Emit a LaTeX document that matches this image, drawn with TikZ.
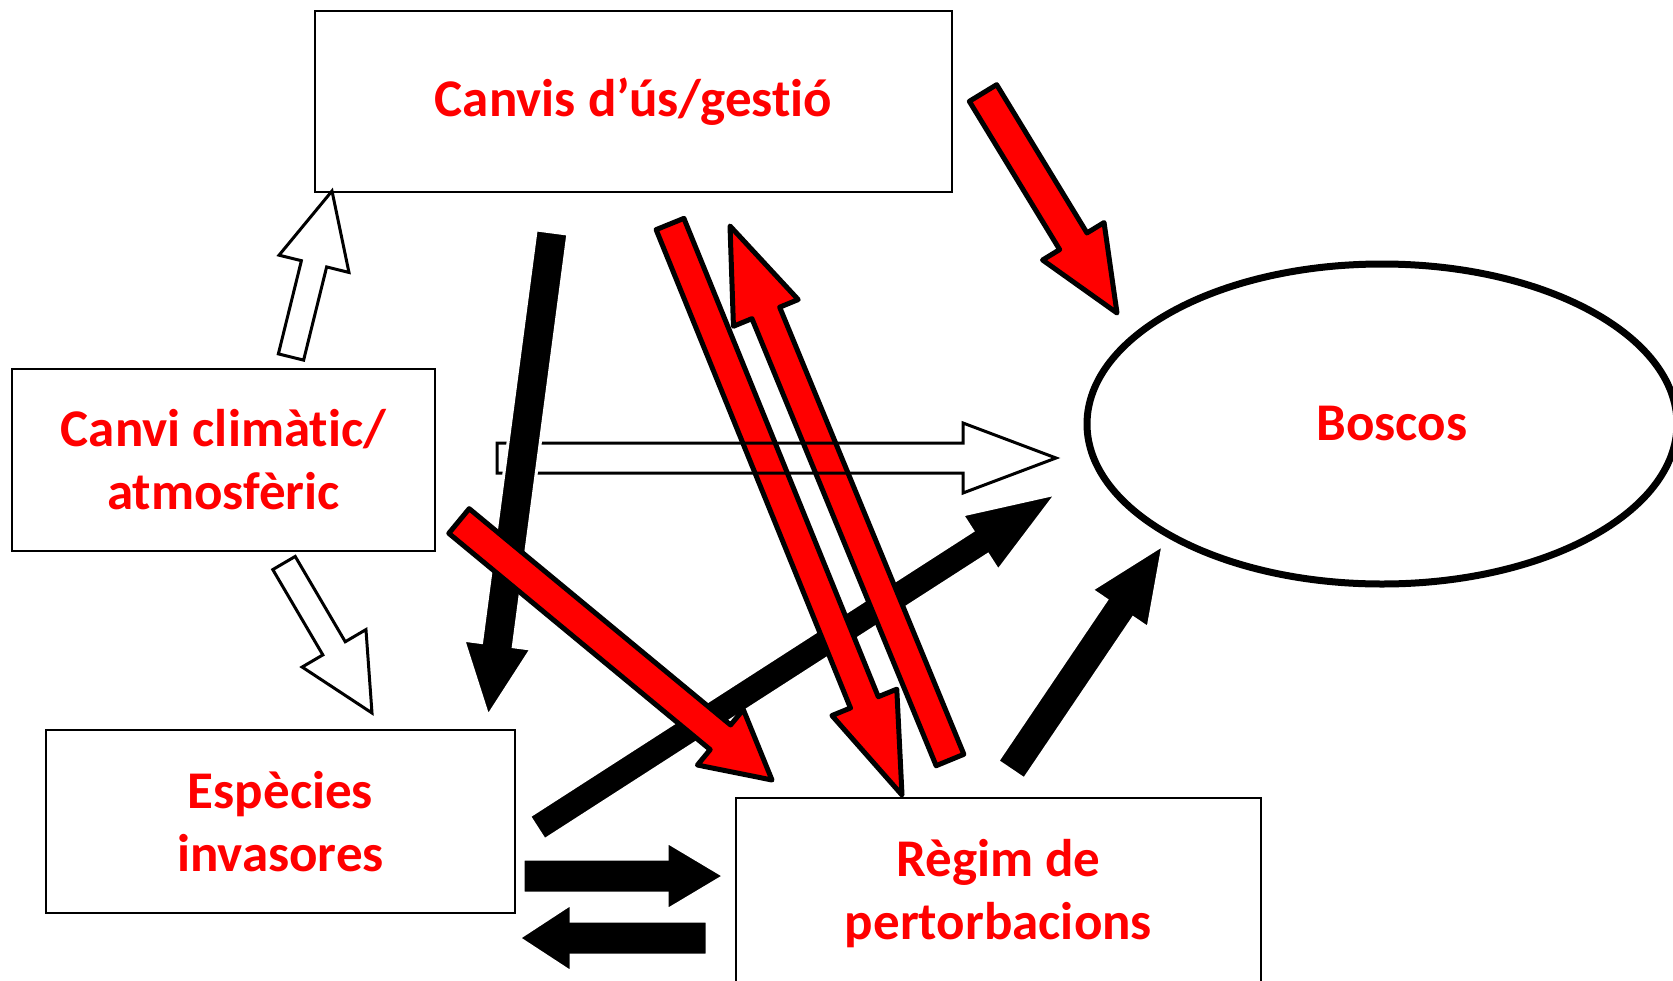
\documentclass[tikz,border=0pt]{standalone}
\usepackage{fontspec}
\setmainfont{Carlito}
\usetikzlibrary{calc,shapes.geometric}

\newcommand{\fatarrow}[6][]{%
  \coordinate (fa-h) at ($(#3)!#6!(#2)$);
  \draw[#1] ($(#2)!#4!90:(#3)$) -- ($(fa-h)!#4!-90:(#2)$) -- ($(fa-h)!#5!-90:(#2)$) -- (#3)
    -- ($(fa-h)!#5!90:(#2)$) -- ($(fa-h)!#4!90:(#2)$) -- ($(#2)!#4!-90:(#3)$) -- cycle;}

\begin{document}
\begin{tikzpicture}[x=1pt,y=-1pt]
  \tikzstyle{box}=[draw, line width=1.5pt, align=center, text=red, font=\fontsize{53}{63}\selectfont\bfseries]
  \tikzstyle{whitearrow}=[draw=black, line width=3pt, fill=none]
  \tikzstyle{blackarrow}=[fill=black, draw=white, line width=3pt]
  \tikzstyle{redarrow}=[fill=red, draw=black, line width=5pt, line join=round]
  \useasboundingbox (0,0) rectangle (1673,980);

  \node[box, minimum width=637pt, minimum height=181pt] (canvis) at (633.5,101.5) {Canvis d’ús/gest\kern0pt ió};
  \node[box, minimum width=423pt, minimum height=182pt] (clima) at (223.5,460) {Canvi climàt\kern0pt ic/\\atmosfèric};
  \node[box, minimum width=469pt, minimum height=183pt] (especies) at (280.5,821.5) {Espècies\\invasores};
  \node[box, minimum width=525pt, minimum height=192pt] (regim) at (998.5,894) {Règim de\\pertorbacions};
  \node[box, ellipse, line width=7pt, minimum width=590pt, minimum height=320pt] (boscos) at (1382,424) {\hspace*{20pt}Boscos};

  \coordinate (clima-up) at (291,357);     \coordinate (canvis-in) at (332,191);
  \coordinate (clima-down) at (284,563);   \coordinate (especies-in) at (372,713);
  \coordinate (clima-right) at (497,458);  \coordinate (boscos-in) at (1056,458);
  \coordinate (canvis-out) at (552,232);   \coordinate (especies-top) at (488,716);
  \coordinate (clima-out) at (459,521);    \coordinate (regim-in) at (772,780);
  \coordinate (canvis-mid) at (670,224);   \coordinate (regim-top) at (902,795);
  \coordinate (regim-up) at (950,760);     \coordinate (canvis-low) at (730,226);
  \coordinate (canvis-right) at (983,93);  \coordinate (boscos-top) at (1117,313);
  \coordinate (especies-out) at (537,828); \coordinate (boscos-left) at (1056,494);
  \coordinate (regim-out) at (1011,770);   \coordinate (boscos-low) at (1163,545);
  \coordinate (especies-r) at (523,876);   \coordinate (regim-l) at (724,876);
  \coordinate (regim-back) at (707,938);   \coordinate (especies-back) at (519,938);

  \fatarrow[blackarrow]{especies-out}{boscos-left}{14pt}{33pt}{90pt}
  \fatarrow[redarrow]{canvis-mid}{regim-top}{15pt}{35pt}{100pt}
  \fatarrow[redarrow]{regim-up}{canvis-low}{15pt}{35pt}{94pt}
  \fatarrow[redarrow]{canvis-right}{boscos-top}{16pt}{36pt}{84pt}
  \fatarrow[whitearrow]{clima-up}{canvis-in}{13pt}{36pt}{75pt}
  \fatarrow[whitearrow]{clima-down}{especies-in}{13pt}{37pt}{75pt}
  \fatarrow[whitearrow]{clima-right}{boscos-in}{15pt}{35pt}{93pt}
  \fatarrow[blackarrow]{canvis-out}{especies-top}{16pt}{34pt}{72pt}
  \fatarrow[blackarrow]{regim-out}{boscos-low}{16pt}{34pt}{77pt}
  \fatarrow[blackarrow]{especies-r}{regim-l}{17pt}{34pt}{57pt}
  \fatarrow[blackarrow]{regim-back}{especies-back}{17pt}{34pt}{52pt}
  \fatarrow[redarrow]{clima-out}{regim-in}{16pt}{36pt}{67pt}
\end{tikzpicture}
\end{document}
